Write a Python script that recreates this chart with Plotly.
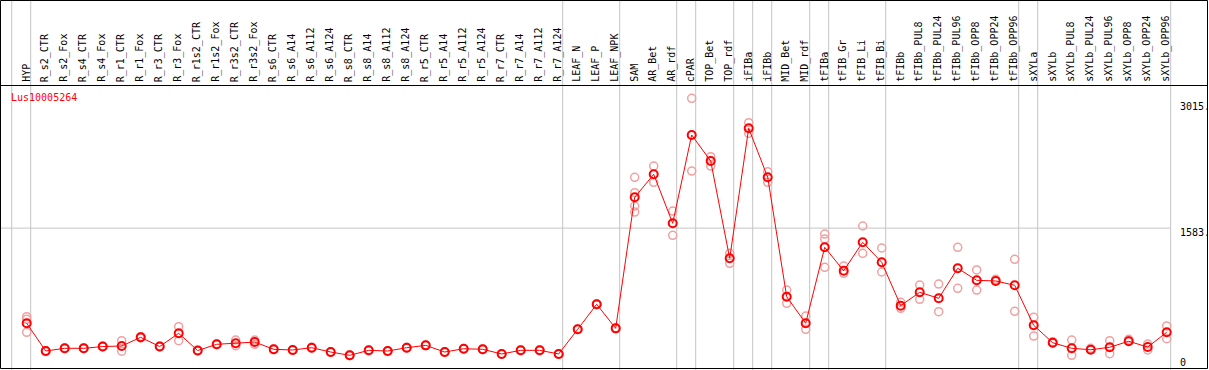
import plotly.graph_objects as go

# ---------------- data ----------------
categories = [
    "HYP", "R_s2_CTR", "R_s2_Fox", "R_s4_CTR", "R_s4_Fox", "R_r1_CTR", "R_r1_Fox",
    "R_r3_CTR", "R_r3_Fox", "R_r1s2_CTR", "R_r1s2_Fox", "R_r3s2_CTR", "R_r3s2_Fox",
    "R_s6_CTR", "R_s6_A14", "R_s6_A112", "R_s6_A124", "R_s8_CTR", "R_s8_A14",
    "R_s8_A112", "R_s8_A124", "R_r5_CTR", "R_r5_A14", "R_r5_A112", "R_r5_A124",
    "R_r7_CTR", "R_r7_A14", "R_r7_A112", "R_r7_A124", "LEAF_N", "LEAF_P", "LEAF_NPK",
    "SAM", "AR_Bet", "AR_rdf", "cPAR", "TOP_Bet", "TOP_rdf", "iFIBa", "iFIBb",
    "MID_Bet", "MID_rdf", "tFIBa", "tFIB_Gr", "tFIB_Li", "tFIB_Bi", "tFIBb",
    "tFIBb_PUL8", "tFIBb_PUL24", "tFIBb_PUL96", "tFIBb_OPP8", "tFIBb_OPP24",
    "tFIBb_OPP96", "sXYLa", "sXYLb", "sXYLb_PUL8", "sXYLb_PUL24", "sXYLb_PUL96",
    "sXYLb_OPP8", "sXYLb_OPP24", "sXYLb_OPP96",
]

mean_values = [
    458, 130, 162, 162, 183, 189, 292, 183, 339, 136, 209, 221, 236,
    150, 142, 169, 118, 79, 138, 130, 169, 197, 118, 157, 150,
    95, 138, 138, 95, 387, 682, 398,
    1947, 2219, 1640, 2684, 2376, 1226, 2763, 2184,
    772, 458, 1356, 1079, 1415, 1179, 666,
    824, 753, 1108, 966, 958, 907,
    434, 228, 162, 145, 174, 245, 177, 351,
]

replicate_values = [
    [536, 505, 351], [125, 135], [158, 166], [158, 166], [178, 188], [252, 127],
    [285, 300], [178, 188], [417, 252], [131, 140], [204, 214], [260, 193], [260, 209],
    [146, 154], [138, 146], [165, 173], [114, 122], [75, 83], [134, 142], [126, 134],
    [165, 173], [193, 201], [114, 122], [153, 161], [146, 154], [91, 99], [134, 142],
    [134, 142], [91, 99], [383, 391], [678, 686], [394, 402],
    [2184, 2002, 1844, 1773], [2317, 2125], [1785, 1498], [3118, 2258],
    [2427, 2317], [1285, 1167], [2829, 2704], [2250, 2125],
    [851, 694], [544, 387], [1513, 1454, 1120], [1135, 1049], [1608, 1285],
    [1348, 1064], [706, 635],
    [910, 741], [922, 595], [1356, 871], [1088, 851], [978, 958], [1214, 599],
    [528, 307], [240, 225], [260, 79], [162, 150], [252, 98], [268, 250],
    [213, 142], [426, 275],
]

group_breaks = [-1, 0, 28, 31, 34, 35, 37, 38, 39, 41, 42, 45, 52, 53, 60]
y_tick_values = [3015, 1583, 0]
y_tick_labels = ["3015.", "1583.", "0"]
gene_label = "Lus10005264"

# ---------------- geometry / style ----------------
W, H = 1209, 370
X0_PX, DX_PX = 26.7, 19.0          # pixel x of first category, spacing
Y0_PX = 362.0                      # pixel y of value 0
PX_PER_UNIT = 255.0 / 3015.0
FONT = "DejaVu Sans Mono"
RED = "#ff0000"
PINK = "#f0a0a0"
GRID = "#c4c4c4"

x_idx = list(range(len(categories)))

fig = go.Figure()

rx, ry = [], []
for i, reps in enumerate(replicate_values):
    for v in reps:
        rx.append(i)
        ry.append(v)

fig.add_trace(go.Scatter(
    x=rx, y=ry, mode="markers",
    marker=dict(symbol="circle-open", size=8, color=PINK, line=dict(width=1.5, color=PINK)),
    showlegend=False, hoverinfo="skip",
))

fig.add_trace(go.Scatter(
    x=x_idx, y=mean_values, mode="lines+markers",
    line=dict(color=RED, width=1),
    marker=dict(symbol="circle-open", size=8, color=RED, line=dict(width=2, color=RED)),
    showlegend=False,
))

shapes = []
# vertical group separators
for b in group_breaks:
    xv = b + 4.0 / DX_PX
    shapes.append(dict(type="line", xref="x", yref="paper", x0=xv, x1=xv, y0=0, y1=1,
                       line=dict(color=GRID, width=1), layer="below"))
# horizontal gridline at middle tick
right_px = X0_PX + DX_PX * 60 + 4.0
shapes.append(dict(type="line", xref="paper", yref="y", x0=0, x1=right_px / W,
                   y0=y_tick_values[1], y1=y_tick_values[1],
                   line=dict(color=GRID, width=1), layer="below"))
# frame
shapes.append(dict(type="rect", xref="paper", yref="paper",
                   x0=0.5 / W, x1=1207.5 / W, y0=1 - 368.5 / H, y1=1 - 0.5 / H,
                   line=dict(color="black", width=1), layer="above"))
shapes.append(dict(type="line", xref="paper", yref="paper",
                   x0=0, x1=1207.5 / W, y0=1 - 85.5 / H, y1=1 - 85.5 / H,
                   line=dict(color="black", width=1), layer="above"))

annotations = []
for i, c in enumerate(categories):
    annotations.append(dict(
        x=i - 0.05, xref="x", y=1 - 84.0 / H, yref="paper",
        text=c, textangle=-90, showarrow=False,
        xanchor="center", yanchor="bottom",
        font=dict(family=FONT, size=10, color="black"),
    ))

annotations.append(dict(
    x=8.5 / W, xref="paper", y=1 - 97.5 / H, yref="paper",
    text=gene_label, showarrow=False, xanchor="left", yanchor="middle",
    font=dict(family=FONT, size=10, color=RED),
))

label_px_offsets = [0, 4.5, 0]
for v, t, off in zip(y_tick_values, y_tick_labels, label_px_offsets):
    ypx = Y0_PX - v * PX_PER_UNIT + off
    annotations.append(dict(
        x=1177.5 / W, xref="paper", y=1 - ypx / H, yref="paper",
        text=t, showarrow=False, xanchor="left", yanchor="middle",
        font=dict(family=FONT, size=10, color="black"),
    ))

fig.update_layout(
    width=W, height=H,
    margin=dict(l=0, r=0, t=0, b=0, pad=0),
    paper_bgcolor="white", plot_bgcolor="white",
    xaxis=dict(visible=False, range=[-X0_PX / DX_PX, (W - X0_PX) / DX_PX], fixedrange=True),
    yaxis=dict(visible=False, range=[-(H - Y0_PX) / PX_PER_UNIT, Y0_PX / PX_PER_UNIT], fixedrange=True),
    shapes=shapes, annotations=annotations,
    showlegend=False,
)

fig.write_html(
    "out.html",
    config={"displayModeBar": False},
    post_script="document.body.style.margin='0';document.body.style.overflow='hidden';",
)
